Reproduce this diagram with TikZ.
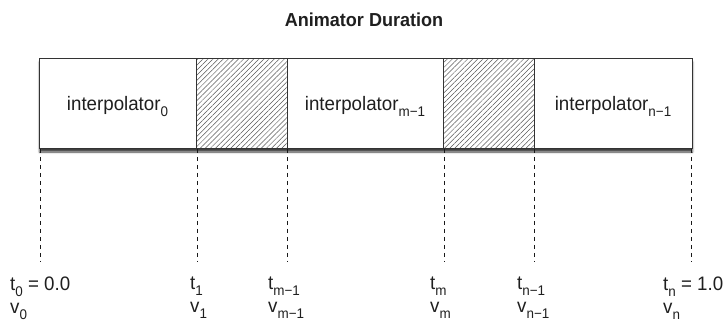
\documentclass[tikz,border=0pt]{standalone}
\usepackage{fontspec}
\setmainfont[FakeStretch=0.96]{Liberation Sans}
\usetikzlibrary{patterns.meta,shadows.blur}
\newcommand{\lsub}[1]{\raisebox{-5.5pt}{\fontsize{14}{14}\selectfont #1}}
\begin{document}
\begin{tikzpicture}[x=1pt,y=-1pt, text=black!88,
  seg/.style={draw=black!80, line width=1pt, minimum height=90pt, inner sep=0pt,
    outer sep=0pt, anchor=north west, font=\fontsize{19.5}{20}\selectfont},
  hatch/.style={seg, pattern={Lines[angle=45,distance=3.6pt,line width=0.5pt]},
    pattern color=black!65},
  tickline/.style={draw=black!90, line width=1pt, dash pattern=on 4.5pt off 3.5pt},
  lab/.style={anchor=north west, align=left, inner sep=0pt,
    font=\fontsize{19.5}{23}\selectfont},
  title/.style={font=\bfseries\fontsize{18.8}{19}\selectfont}]
\useasboundingbox (0,0) rectangle (726,323);
\node[title] (title) at (364,19.5) {Animator Duration};
% shadow
\path[fill=white, blur shadow={shadow xshift=0.5pt, shadow yshift=-3pt,
  shadow blur radius=2pt, shadow opacity=75}]
  (39,59) rectangle (692,149);
\node[seg, minimum width=157pt, text depth=1pt] (s0) at (39,59) {interpolator\lsub{0}};
\node[hatch, minimum width=91pt] (h1) at (196,59) {};
\node[seg, minimum width=156pt, text depth=1pt] (s2) at (287,59) {interpolator\lsub{m−1}};
\node[hatch, minimum width=91pt] (h3) at (443,59) {};
\node[seg, minimum width=158pt, text depth=1pt] (s4) at (534,59) {interpolator\lsub{n−1}};
% labels
\node[lab] (l0) at (10,277) {t\lsub{0} = 0.0\\v\lsub{0}};
\node[lab] (l1) at (190,277) {t\lsub{1}\\v\lsub{1}};
\node[lab] (l2) at (268,277) {t\lsub{m−1}\\v\lsub{m−1}};
\node[lab] (l3) at (430,277) {t\lsub{m}\\v\lsub{m}};
\node[lab] (l4) at (517,277) {t\lsub{n−1}\\v\lsub{n−1}};
\node[lab] (l5) at (663,277) {t\lsub{n} = 1.0\\v\lsub{n}};
% dashed ticks
\coordinate (e0) at (40,262);
\coordinate (e1) at (197,262);
\coordinate (e2) at (287,262);
\coordinate (e3) at (444,262);
\coordinate (e4) at (534,262);
\coordinate (e5) at (691,262);
\draw[tickline] (s0.south west) ++(1,0) -- (e0);
\draw[tickline] (h1.south west) ++(1,0) -- (e1);
\draw[tickline] (s2.south west) -- (e2);
\draw[tickline] (h3.south west) ++(1,0) -- (e3);
\draw[tickline] (s4.south west) -- (e4);
\draw[tickline] (s4.south east) ++(-1,0) -- (e5);
\end{tikzpicture}
\end{document}
